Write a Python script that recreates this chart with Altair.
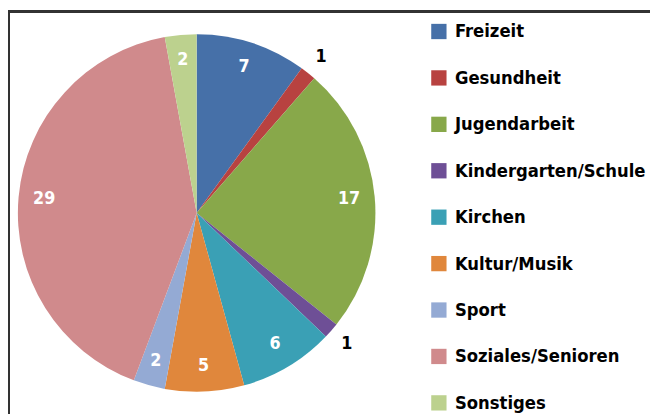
import altair as alt
import pandas as pd

categories = ["Freizeit", "Gesundheit", "Jugendarbeit", "Kindergarten/Schule", "Kirchen",
              "Kultur/Musik", "Sport", "Soziales/Senioren", "Sonstiges"]
values = [7, 1, 17, 1, 6, 5, 2, 29, 2]
colors = ["#4670a8", "#b84240", "#88a84a", "#6e4f96", "#3aa0b5",
          "#e0873c", "#94aad4", "#d08a8c", "#bcd18e"]

df = pd.DataFrame({"cat": categories, "value": values, "order": list(range(len(categories)))})

FONT = "DejaVu Sans Condensed"
CX, CY = 191, 205
W, H = 650, 408

base = alt.Chart(df).encode(
    theta=alt.Theta("value:Q", stack=True),
    order=alt.Order("order:Q"),
)

arcs = base.mark_arc(outerRadius=181).encode(
    x=alt.value(CX),
    y=alt.value(CY),
    color=alt.Color(
        "cat:N",
        scale=alt.Scale(domain=categories, range=colors),
        sort=categories,
        legend=alt.Legend(
            orient="none", legendX=427, legendY=12, title=None,
            symbolType="square", symbolSize=240, symbolStrokeWidth=0,
            symbolOpacity=1,
            labelFont=FONT, labelFontSize=18.5, labelFontWeight="bold",
            labelColor="black", labelOffset=7, labelLimit=300,
            rowPadding=28, padding=0,
        ),
    ),
)

inner = base.mark_text(font=FONT, fontSize=18, fontWeight="bold", color="white").transform_calculate(
    lbl="datum.value > 1 ? '' + datum.value : ''"
).encode(
    x=alt.value(CX), y=alt.value(CY), radius=alt.value(155), text="lbl:N",
)

outer = base.mark_text(font=FONT, fontSize=18, fontWeight="bold", color="black").transform_calculate(
    lbl="datum.value > 1 ? '' : '' + datum.value"
).encode(
    x=alt.value(CX), y=alt.value(CY), radius=alt.value(202), text="lbl:N",
)

top_rule = alt.Chart(df).mark_rule(color="#333333", strokeWidth=2).encode(
    x=alt.value(0), x2=alt.value(W), y=alt.value(1)
)
left_rule = alt.Chart(df).mark_rule(color="#333333", strokeWidth=2).encode(
    x=alt.value(1), y=alt.value(0), y2=alt.value(H)
)

chart = alt.layer(arcs, inner, outer, top_rule, left_rule).properties(
    width=W, height=H, autosize=alt.AutoSizeParams(type="none"), padding=0
).configure_view(stroke=None)

chart.save("out.html", embed_options={"renderer": "svg", "actions": False})
